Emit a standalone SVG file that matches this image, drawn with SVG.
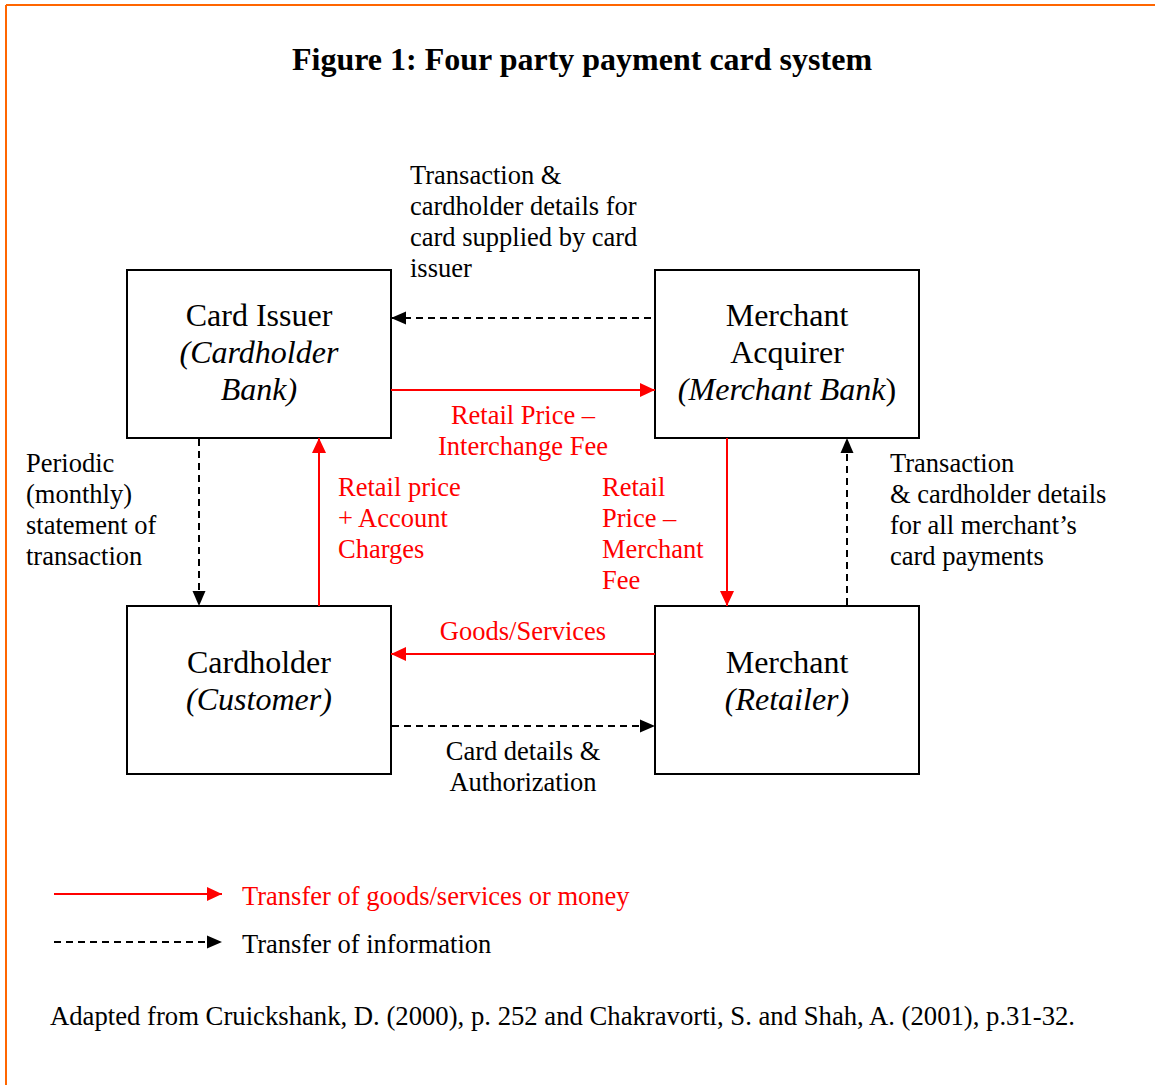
<svg xmlns="http://www.w3.org/2000/svg" width="1155" height="1085" viewBox="0 0 1155 1085">
<style>
text{font-family:"Liberation Serif","Times New Roman",serif;}
.title{font-size:32px;font-weight:bold;}
.box{font-size:32px;fill:#000;}
.it{font-style:italic;}
.lbl{font-size:26.5px;fill:#000;}
.red{fill:#FF0000;}
.node rect{fill:#fff;stroke:#000;stroke-width:2;}
.money{stroke:#FF0000;stroke-width:2;fill:none;marker-end:url(#ar);}
.info{stroke:#000;stroke-width:2;fill:none;stroke-dasharray:7 5;marker-end:url(#ab);}
</style>
<defs>
<marker id="ar" markerUnits="userSpaceOnUse" markerWidth="16" markerHeight="14" refX="15" refY="7" orient="auto"><path d="M0,0 L15,7 L0,14 z" fill="#FF0000"/></marker>
<marker id="ab" markerUnits="userSpaceOnUse" markerWidth="16" markerHeight="14" refX="15" refY="7" orient="auto"><path d="M0,0.5 L15,7 L0,13.5 z" fill="#000"/></marker>
</defs>
<rect width="1155" height="1085" fill="#fff"/>
<line x1="6" y1="5" x2="1155" y2="5" stroke="#FF6600" stroke-width="2"/>
<line x1="6" y1="5" x2="6" y2="1085" stroke="#FF6600" stroke-width="2"/>
<text class="title" x="582" y="70" text-anchor="middle">Figure 1: Four party payment card system</text>

<g id="card-issuer" class="node">
<rect x="127" y="270" width="264" height="168"/>
<text class="box" x="259" y="326" text-anchor="middle">Card Issuer</text>
<text class="box it" x="259" y="363" text-anchor="middle">(Cardholder</text>
<text class="box it" x="259" y="400" text-anchor="middle">Bank)</text>
</g>
<g id="merchant-acquirer" class="node">
<rect x="655" y="270" width="264" height="168"/>
<text class="box" x="787" y="326" text-anchor="middle">Merchant</text>
<text class="box" x="787" y="363" text-anchor="middle">Acquirer</text>
<text class="box" x="787" y="400" text-anchor="middle"><tspan class="it">(Merchant Bank</tspan>)</text>
</g>
<g id="cardholder" class="node">
<rect x="127" y="606" width="264" height="168"/>
<text class="box" x="259" y="673" text-anchor="middle">Cardholder</text>
<text class="box it" x="259" y="710" text-anchor="middle">(Customer)</text>
</g>
<g id="merchant" class="node">
<rect x="655" y="606" width="264" height="168"/>
<text class="box" x="787" y="673" text-anchor="middle">Merchant</text>
<text class="box it" x="787" y="710" text-anchor="middle">(Retailer)</text>
</g>

<g id="connectors">
<line class="info" x1="651" y1="318" x2="391" y2="318"/>
<line class="money" x1="391" y1="390" x2="655" y2="390"/>
<line class="info" x1="199" y1="439" x2="199" y2="606"/>
<line class="money" x1="319" y1="606" x2="319" y2="438"/>
<line class="money" x1="727" y1="438" x2="727" y2="606"/>
<line class="info" x1="847" y1="605" x2="847" y2="438"/>
<line class="money" x1="655" y1="654" x2="391" y2="654"/>
<line class="info" x1="392" y1="726" x2="655" y2="726"/>
</g>

<g id="labels">
<text class="lbl" x="410"><tspan x="410" y="184">Transaction &amp;</tspan><tspan x="410" y="215">cardholder details for</tspan><tspan x="410" y="246">card supplied by card</tspan><tspan x="410" y="277">issuer</tspan></text>
<text class="lbl red" text-anchor="middle"><tspan x="523" y="424">Retail Price –</tspan><tspan x="523" y="455">Interchange Fee</tspan></text>
<text class="lbl"><tspan x="26" y="472">Periodic</tspan><tspan x="26" y="503">(monthly)</tspan><tspan x="26" y="534">statement of</tspan><tspan x="26" y="565">transaction</tspan></text>
<text class="lbl red"><tspan x="338" y="496">Retail price</tspan><tspan x="338" y="527">+ Account</tspan><tspan x="338" y="558">Charges</tspan></text>
<text class="lbl red"><tspan x="602" y="496">Retail</tspan><tspan x="602" y="527">Price –</tspan><tspan x="602" y="558">Merchant</tspan><tspan x="602" y="589">Fee</tspan></text>
<text class="lbl"><tspan x="890" y="472">Transaction</tspan><tspan x="890" y="503">&amp; cardholder details</tspan><tspan x="890" y="534">for all merchant’s</tspan><tspan x="890" y="565">card payments</tspan></text>
<text class="lbl red" x="523" y="640" text-anchor="middle">Goods/Services</text>
<text class="lbl" text-anchor="middle"><tspan x="523" y="760">Card details &amp;</tspan><tspan x="523" y="791">Authorization</tspan></text>
</g>

<g id="legend">
<line class="money" x1="54" y1="894" x2="222" y2="894"/>
<text class="lbl red" x="242" y="905">Transfer of goods/services or money</text>
<line class="info" x1="54" y1="942" x2="222" y2="942" stroke-dasharray="2 5 7 5 7 5 7 5 7 5 7 5 7 5 7 5 7 5 7 5 7 5 7 5 7 5 7 5"/>
<text class="lbl" x="242" y="953">Transfer of information</text>
</g>
<text class="lbl" x="50" y="1025" textLength="1025" lengthAdjust="spacingAndGlyphs">Adapted from Cruickshank, D. (2000), p. 252 and Chakravorti, S. and Shah, A. (2001), p.31-32.</text>
</svg>
